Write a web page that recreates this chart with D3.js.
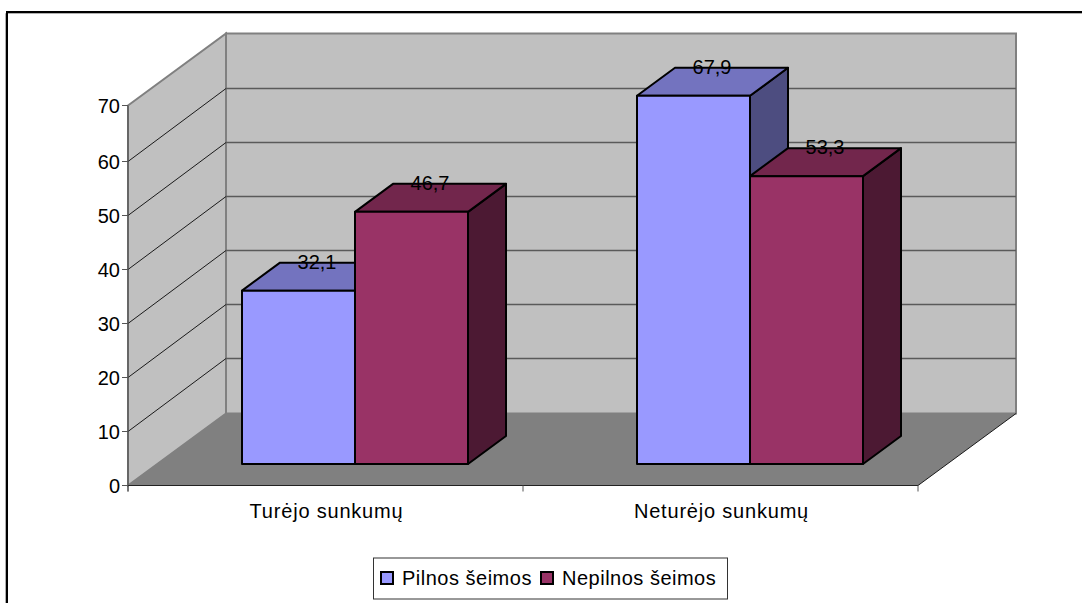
<!DOCTYPE html>
<html><head><meta charset="utf-8">
<script src="https://cdn.jsdelivr.net/npm/d3@7"></script>
<style>html,body{margin:0;padding:0;background:#fff;overflow:hidden}svg{display:block}text{font-family:"Liberation Sans",Arial,sans-serif;fill:#000}</style>
</head><body><script>
const categories = ["Turėjo sunkumų", "Neturėjo sunkumų"];
const seriesNames = ["Pilnos šeimos", "Nepilnos šeimos"];
const pilnos = [32.1, 67.9];
const nepilnos = [46.7, 53.3];
const yTicks = [0, 10, 20, 30, 40, 50, 60, 70];
const valueLabels = [["32,1", "67,9"], ["46,7", "53,3"]];
const colors = ["#9999ff", "#993366"];
const topColors = ["#7373bf", "#72264c"];
const sideColors = ["#4d4d80", "#4c1933"];

const W = 1082, H = 603;
const svg = d3.select("body").append("svg").attr("width", W).attr("height", H);
const y = d3.scaleLinear().domain([0, 60, 70]).range([485.5, 161.5, 105.5]);
const x = d3.scaleBand().domain(categories).range([128, 918]);
const DX = 98, DY = -72, gridDY = -73;  // wall depth
const barOff = {dx: 29.5, dy: -21.5};   // front of bars relative to front plane
const barD = {dx: 38, dy: -28};         // depth of a bar
const groupW = 226;
const inner = d3.scaleBand().domain([0, 1]).range([-groupW / 2, groupW / 2]);
const poly = pts => pts.map(p => p.join(",")).join(" ");

// outer frame
svg.append("path").attr("d", `M5.5 ${H+2}V13.5H${W+2}`).attr("fill", "none").attr("stroke", "#b0b0b0").attr("stroke-width", 1);
svg.append("path").attr("d", `M7 ${H+2}V12H${W+2}`).attr("fill", "none").attr("stroke", "#000").attr("stroke-width", 2);

const [x0, x1] = x.range();
const y0 = y(0), yT = y(70);
// back wall
svg.append("polygon").attr("points", poly([[x0+DX,yT+DY],[x1+DX,yT+DY],[x1+DX,y0+DY],[x0+DX,y0+DY]]))
  .attr("fill", "#c0c0c0").attr("stroke", "#808080").attr("stroke-width", 2);
// side wall
svg.append("polygon").attr("points", poly([[x0,yT],[x0+DX,yT+DY],[x0+DX,y0+DY],[x0,y0]]))
  .attr("fill", "#c0c0c0").attr("stroke", "#808080").attr("stroke-width", 2);
// floor
svg.append("polygon").attr("points", poly([[x0,y0],[x1,y0],[x1+DX,y0+DY],[x0+DX,y0+DY]]))
  .attr("fill", "#808080");
// gridlines
const grid = svg.append("g");
yTicks.filter(t => t > 0 && t < 70).forEach(t => {
  grid.append("path").attr("d", `M${x0} ${y(t)}L${x0+DX} ${y(t)+gridDY}`).attr("stroke", "#1a1a1a").attr("fill", "none");
  grid.append("path").attr("d", `M${x0+DX} ${y(t)+gridDY}H${x1+DX}`).attr("stroke", "#5a5a5a").attr("stroke-width", 1.5).attr("fill", "none");
});
// floor outline
svg.append("path").attr("d", `M${x1+DX} ${y0+DY}L${x1} ${y0}`).attr("stroke", "#1a1a1a").attr("fill", "none");

// axes
svg.append("path").attr("d", `M${x0} ${yT}V${y0+6}`).attr("stroke", "#555").attr("stroke-width", 1.2).attr("fill", "none");
svg.append("path").attr("d", `M${x0} ${y0}H${x1}`).attr("stroke", "#222").attr("stroke-width", 1.2).attr("fill", "none");
const yAxis = svg.append("g");
yTicks.forEach(t => {
  yAxis.append("path").attr("d", `M${x0-6} ${y(t)}H${x0}`).attr("stroke", "#555").attr("fill", "none");
  yAxis.append("text").attr("x", x0-8).attr("y", y(t)+7).attr("text-anchor", "end").attr("font-size", 20).text(t);
});
[x0, x0 + x.bandwidth(), x1].forEach(v => {
  svg.append("path").attr("d", `M${v} ${y0}V${y0+6}`).attr("stroke", "#555").attr("fill", "none");
});
categories.forEach(c => {
  svg.append("text").attr("x", x(c)+x.bandwidth()/2+1).attr("y", 518).attr("text-anchor", "middle")
    .attr("font-size", 20).attr("letter-spacing", 0.8).text(c);
});

// bars
const bars = svg.append("g").attr("stroke", "#000").attr("stroke-width", 2).attr("stroke-linejoin", "round");
const series = [pilnos, nepilnos];
const labels = [];
categories.forEach((c, ci) => {
  const cx = x(c) + x.bandwidth()/2 + barOff.dx;
  [0, 1].forEach(si => {
    const v = series[si][ci];
    const l = cx + inner(si), r = l + inner.bandwidth();
    const b = y(0) + barOff.dy, t = b - (y(0) - y(v));
    const d = barD;
    bars.append("polygon").attr("points", poly([[r,t],[r+d.dx,t+d.dy],[r+d.dx,b+d.dy],[r,b]])).attr("fill", sideColors[si]);
    bars.append("polygon").attr("points", poly([[l,t],[l+d.dx,t+d.dy],[r+d.dx,t+d.dy],[r,t]])).attr("fill", topColors[si]);
    bars.append("rect").attr("x", l).attr("y", t).attr("width", r-l).attr("height", b-t).attr("fill", colors[si]);
    labels.push({x: (l+r)/2 + d.dx/2 - 0.5, y: t + d.dy + 6, s: valueLabels[si][ci]});
  });
});
labels.forEach(o => svg.append("text").attr("x", o.x).attr("y", o.y).attr("text-anchor", "middle").attr("font-size", 20).text(o.s));

// legend
const lg = svg.append("g");
lg.append("rect").attr("x", 373.5).attr("y", 558).attr("width", 354).attr("height", 41).attr("fill", "#fff").attr("stroke", "#333");
const lgX = [381, 541], txtX = [402, 562];
seriesNames.forEach((n, i) => {
  lg.append("rect").attr("x", lgX[i]).attr("y", 572).attr("width", 12).attr("height", 12).attr("fill", colors[i]).attr("stroke", "#000").attr("stroke-width", 2);
  lg.append("text").attr("x", txtX[i]).attr("y", 585).attr("font-size", 20).attr("letter-spacing", 0.5).text(n);
});
</script></body></html>
